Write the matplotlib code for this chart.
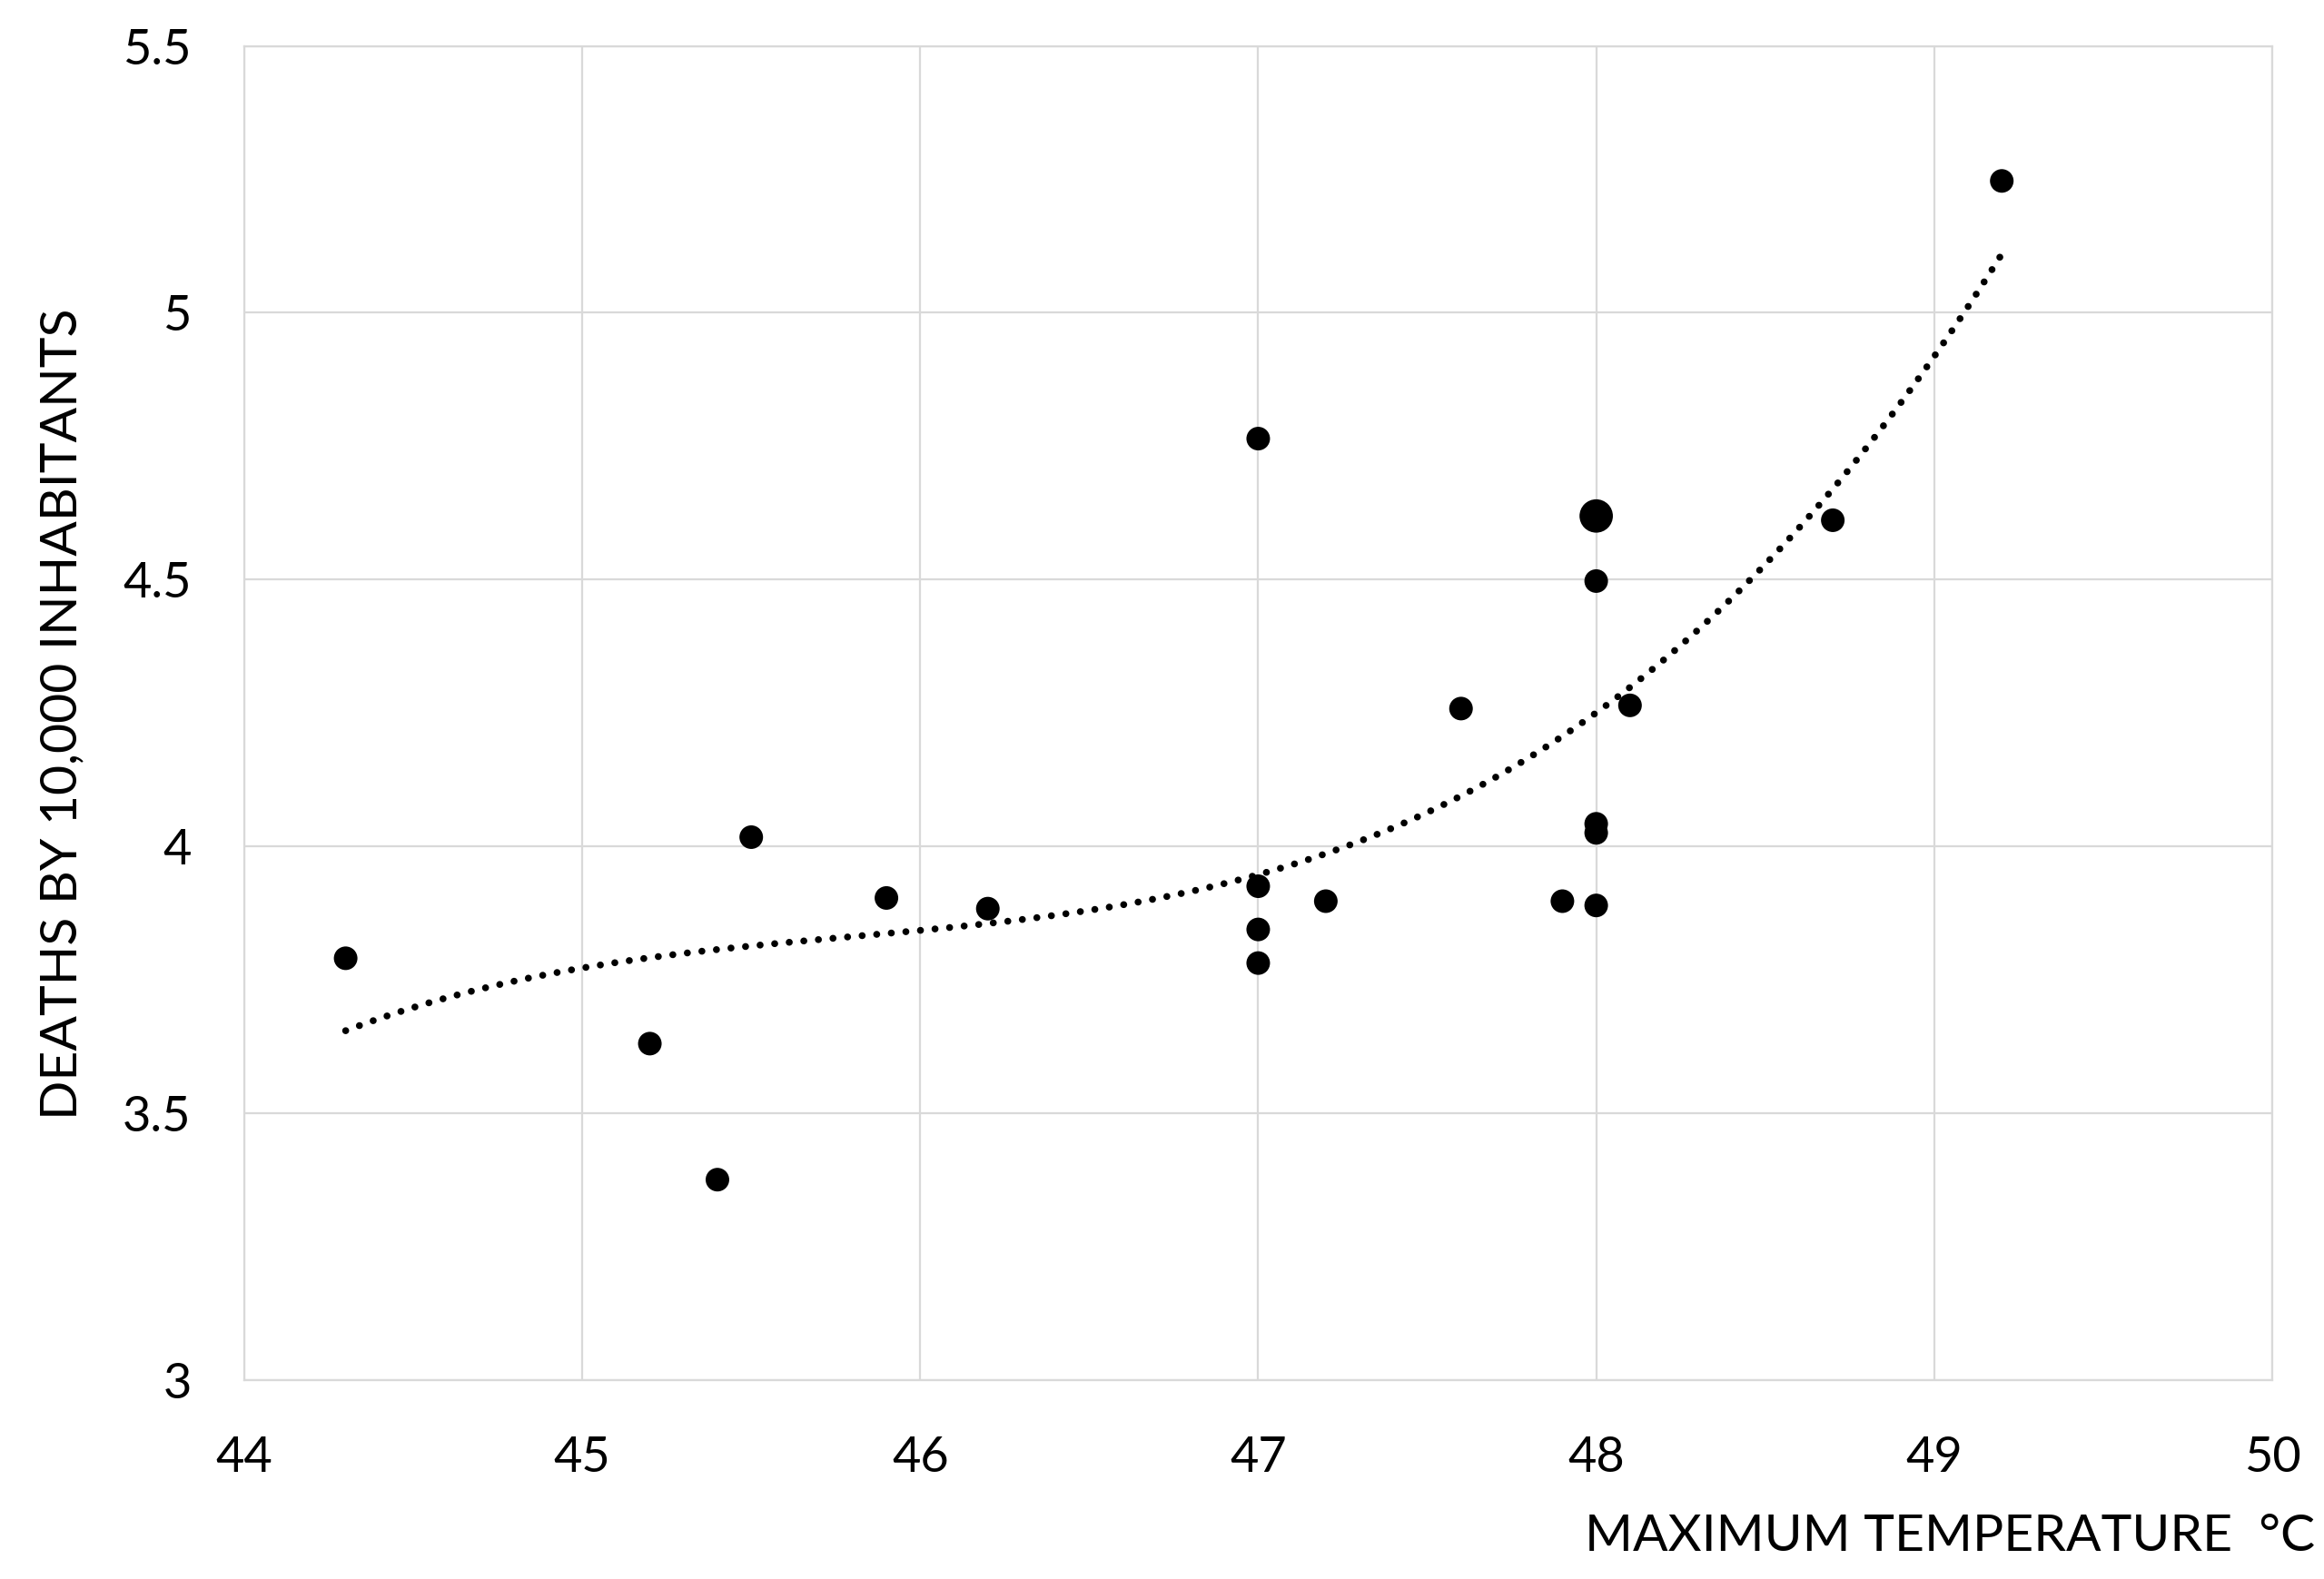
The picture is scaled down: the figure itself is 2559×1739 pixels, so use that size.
import numpy as np
import matplotlib.pyplot as plt
from matplotlib.ticker import FuncFormatter

# data
max_temp = [44.3, 45.2, 45.4, 45.5, 45.9, 46.2, 47.0, 47.0, 47.0, 47.0,
            47.2, 47.6, 47.9, 48.0, 48.0, 48.0, 48.0, 48.0, 48.1, 48.7, 49.2]
deaths = [3.79, 3.63, 3.375, 4.017, 3.903, 3.883, 4.764, 3.925, 3.844, 3.781,
          3.897, 4.258, 3.897, 4.619, 4.497, 4.042, 4.025, 3.889, 4.264, 4.611, 5.247]
big_point = 13  # the larger dot at 48 / 4.62

x_ticks = [44, 45, 46, 47, 48, 49, 50]
y_ticks = [3, 3.5, 4, 4.5, 5, 5.5]

plt.rcParams['font.family'] = ['Lato', 'DejaVu Sans']

fig = plt.figure(figsize=(25.59, 17.39), dpi=100)
ax = fig.add_axes([0.1051, 0.1262, 0.8726, 0.8447])

x = np.array(max_temp)
y = np.array(deaths)

# polynomial trend line (order 3) like the spreadsheet one
coef = np.polyfit(x, y, 3)
xt = np.linspace(x.min(), x.max(), 300)
ax.plot(xt, np.polyval(coef, xt), color='black', lw=5.5,
        linestyle=(0, (0.01, 2.1)), dash_capstyle='round', zorder=2)

sizes = np.full(len(x), 350.0)
sizes[big_point] = 700.0
ax.scatter(x, y, s=sizes, color='black', edgecolors='none', zorder=3)

ax.set_xlim(44, 50)
ax.set_ylim(3, 5.5)
ax.set_xticks(x_ticks)
ax.set_yticks(y_ticks)
ax.yaxis.set_major_formatter(FuncFormatter(lambda v, p: f"{v:g}"))
ax.grid(True, color='#d9d9d9', lw=1.6)
ax.set_axisbelow(True)
for s in ax.spines.values():
    s.set_color('#d9d9d9')
    s.set_linewidth(1.6)
ax.tick_params(axis='y', length=0, labelsize=39, pad=42)
ax.tick_params(axis='x', length=0, labelsize=39, pad=44)

fig.text(0.996, 0.012, "MAXIMUM TEMPERATURE  °C", ha='right', va='bottom', fontsize=41)
fig.text(0.027, 0.548, "DEATHS BY 10,000 INHABITANTS", ha='center', va='center',
         rotation=90, fontsize=41)

fig.savefig("out.png", dpi=100, facecolor='white')
